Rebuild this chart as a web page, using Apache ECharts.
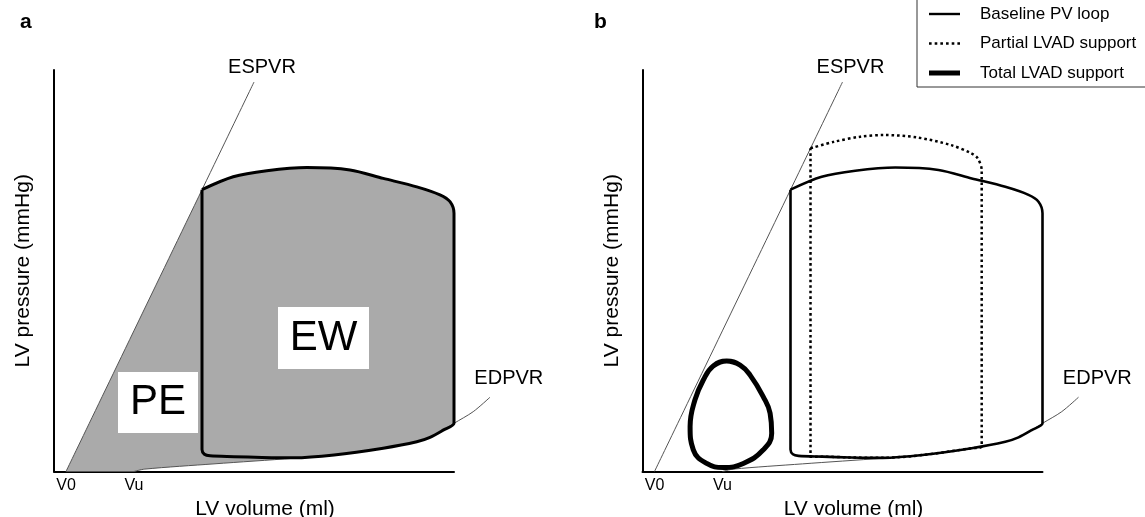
<!DOCTYPE html>
<html>
<head>
<meta charset="utf-8">
<title>LV pressure-volume loops</title>
<script src="https://cdn.jsdelivr.net/npm/echarts@6/dist/echarts.min.js"></script>
<style>
  html, body { margin: 0; padding: 0; background: #fff; }
  #chart { width: 1145px; height: 517px; }
</style>
</head>
<body>
<div id="chart"></div>
<script>
// Volume axis marks
const TICK_VALUES = [3, 20];
const TICK_LABELS = ['V0', 'Vu'];

// End-systolic pressure-volume relation (straight line from V0)
const ESPVR = [[3, 0], [50, 97]];

// End-diastolic pressure-volume relation (from Vu, rising exponentially)
const EDPVR = [
  [20, 0], [22.7, 0.6], [40, 1.9], [60, 3.3], [70, 4.1], [82.3, 5.8],
  [90.7, 7.4], [94, 8.5], [97.3, 10.3], [100, 12], [104.8, 14.9], [109, 18.5]
];

// Baseline PV loop, starting at the end-systolic corner and running clockwise
const LOOP_BASELINE = [
  [37, 70.2], [44.8, 73.4], [53.2, 74.9], [63.2, 75.7], [74, 75.1], [82.3, 73],
  [90.7, 70.9], [96.5, 68.9], [99, 67.2], [100, 64.3], [100, 62],
  [100, 14], [100, 12],
  [97.3, 10.3], [94, 8.5], [90.7, 7.4], [82.3, 5.8], [70, 4.1], [60, 3.4],
  [52, 3.5], [45, 3.7], [39, 3.9], [37.6, 4.3], [37, 5.5],
  [37, 68], [37, 70.2]
];

// Loop under partial LVAD support
const LOOP_PARTIAL = [
  [42, 80.5], [47.8, 82.1], [54.5, 83.4], [60.4, 83.8], [68.7, 83.2], [77.1, 81.3],
  [82.1, 79.3], [83.8, 78], [84.8, 75.1], [84.8, 73],
  [84.8, 6.2],
  [82.3, 5.8], [70, 4.1], [60, 3.4], [52, 3.5], [45, 3.7], [42, 3.7],
  [42, 78], [42, 80.5]
];

// Loop under total LVAD support (closed, first two points repeated)
const LOOP_TOTAL = [
  [17.7, 26.3], [21.05, 27.5], [24.4, 26.5], [26.9, 24.0], [30.2, 18.6], [31.9, 14.5],
  [32.3, 9.5], [30.2, 5.4], [25.2, 2.0], [20.2, 1.0], [16.05, 2.0], [12.7, 5.4],
  [11.9, 11.2], [13.1, 17.8], [15.2, 22.8], [17.7, 26.3], [21.05, 27.5], [24.4, 26.5]
];

const LEGEND_NAMES = ['Baseline PV loop', 'Partial LVAD support', 'Total LVAD support'];
const AREA_NAMES = ['PE', 'EW'];
const CURVE_NAMES = ['ESPVR', 'EDPVR'];

// Shaded region: PE triangle plus the stroke-work area of the loop
const FILL_OUTLINE = [ESPVR[0]]
  .concat(LOOP_BASELINE.slice(0, 13))
  .concat(EDPVR.filter(p => p[0] < 100).reverse());

const FONT = '"Liberation Sans", Arial, Helvetica, sans-serif';

// annotation placement in data units
const CURVE_NOTE_AT = [[52, 100.7], [113.7, 23.1]];
const AREA_BOX_AT = [
  { from: [16, 9.6], to: [36, 24.8] },
  { from: [56, 25.5], to: [78.75, 41] }
];

const chart = echarts.init(document.getElementById('chart'), null, { renderer: 'canvas' });

function axisPair(i) {
  return {
    x: {
      gridIndex: i, type: 'value', min: 0, max: 100,
      name: 'LV volume (ml)', nameLocation: 'middle', nameGap: 23,
      nameTextStyle: { fontSize: 21, fontFamily: FONT, color: '#000', padding: [0, 0, 0, 22] },
      axisLine: { show: true, onZero: false, lineStyle: { color: '#000', width: 2 } },
      axisTick: { show: false },
      splitLine: { show: false },
      axisLabel: {
        customValues: TICK_VALUES,
        formatter: v => { const k = TICK_VALUES.indexOf(v); return k >= 0 ? TICK_LABELS[k] : ''; },
        fontSize: 16, fontFamily: FONT, color: '#000', margin: 6
      }
    },
    y: {
      gridIndex: i, type: 'value', min: 0, max: 100,
      name: 'LV pressure (mmHg)', nameLocation: 'middle', nameGap: 20,
      nameTextStyle: { fontSize: 21, fontFamily: FONT, color: '#000' },
      axisLine: { show: true, onZero: false, lineStyle: { color: '#000', width: 2 } },
      axisTick: { show: false },
      splitLine: { show: false },
      axisLabel: { show: false }
    }
  };
}

// thin reference relation drawn as a smoothed polyline through the axis scales
function thinCurve(i, data) {
  return {
    type: 'custom', xAxisIndex: i, yAxisIndex: i, coordinateSystem: 'cartesian2d',
    clip: false, silent: true, z: 2,
    data: [data[0]],
    renderItem: (params, api) => ({
      type: 'polyline',
      shape: { points: data.map(p => api.coord(p)), smooth: 0.3 },
      style: { stroke: '#555', lineWidth: 1, fill: null }
    })
  };
}

function loop(i, name, data, width, dash, smooth) {
  return {
    type: 'line', name: name, xAxisIndex: i, yAxisIndex: i, data: data,
    symbol: 'none', smooth: smooth, clip: false, silent: true, z: 3,
    itemStyle: { color: '#000' },
    lineStyle: { color: '#000', width: width, type: dash, cap: 'butt', join: 'round' }
  };
}

function curveNotes(i) {
  return {
    type: 'custom', xAxisIndex: i, yAxisIndex: i, coordinateSystem: 'cartesian2d',
    clip: false, silent: true, z: 5,
    data: CURVE_NOTE_AT,
    renderItem: (params, api) => {
      const p = api.coord([api.value(0), api.value(1)]);
      return {
        type: 'text', x: p[0], y: p[1],
        style: {
          text: CURVE_NAMES[params.dataIndex], fill: '#000',
          font: '20px ' + FONT, align: 'center', verticalAlign: 'middle'
        }
      };
    }
  };
}

const option = {
  animation: false,
  backgroundColor: '#fff',
  title: [
    { text: 'a', left: 20, top: 12, padding: 0,
      textStyle: { fontSize: 21, fontWeight: 'bold', fontFamily: FONT, color: '#000' } },
    { text: 'b', left: 594, top: 12, padding: 0,
      textStyle: { fontSize: 21, fontWeight: 'bold', fontFamily: FONT, color: '#000' } }
  ],
  legend: {
    orient: 'vertical', left: 917, top: -10,
    padding: [14, 40, 4, 12],
    itemWidth: 31, itemHeight: 14, itemGap: 9.5,
    borderColor: '#333', borderWidth: 1, backgroundColor: '#fff',
    selectedMode: false,
    itemStyle: { borderWidth: 0 },
    textStyle: { fontSize: 17, fontFamily: FONT, color: '#000', lineHeight: 20, padding: [0, 0, 0, 15] },
    data: [
      { name: LEGEND_NAMES[0], icon: 'path://M0,0H31V2.4H0Z' },
      { name: LEGEND_NAMES[1], icon: 'path://M0,0H2.4V2.4H0Z M5.2,0H7.6V2.4H5.2Z M10.4,0H12.8V2.4H10.4Z M15.6,0H18V2.4H15.6Z M20.8,0H23.2V2.4H20.8Z M26,0H28.4V2.4H26Z' },
      { name: LEGEND_NAMES[2], icon: 'path://M0,0H31V5H0Z' }
    ]
  },
  grid: [
    { left: 54, top: 70, width: 400, height: 401.5, containLabel: false, outerBoundsMode: 'none' },
    { left: 642.5, top: 70, width: 400, height: 401.5, containLabel: false, outerBoundsMode: 'none' }
  ],
  xAxis: [axisPair(0).x, axisPair(1).x],
  yAxis: [axisPair(0).y, axisPair(1).y],
  series: [
    // panel a: shaded PE + EW area
    {
      type: 'custom', xAxisIndex: 0, yAxisIndex: 0, coordinateSystem: 'cartesian2d',
      clip: false, silent: true, z: 1,
      data: [[0, 0]],
      renderItem: (params, api) => ({
        type: 'polygon',
        shape: { points: FILL_OUTLINE.map(p => api.coord(p)) },
        style: { fill: '#aaaaaa', stroke: null }
      })
    },
    thinCurve(0, ESPVR),
    thinCurve(0, EDPVR),
    loop(0, 'PV loop', LOOP_BASELINE, 3, 'solid', 0.3),
    // PE / EW boxes
    {
      type: 'custom', xAxisIndex: 0, yAxisIndex: 0, coordinateSystem: 'cartesian2d',
      clip: false, silent: true, z: 6,
      data: AREA_BOX_AT.map(b => b.from),
      renderItem: (params, api) => {
        const b = AREA_BOX_AT[params.dataIndex];
        const p0 = api.coord([b.from[0], b.to[1]]);
        const p1 = api.coord([b.to[0], b.from[1]]);
        return {
          type: 'group',
          children: [
            { type: 'rect', shape: { x: p0[0], y: p0[1], width: p1[0] - p0[0], height: p1[1] - p0[1] },
              style: { fill: '#fff' } },
            { type: 'text', x: (p0[0] + p1[0]) / 2, y: (p0[1] + p1[1]) / 2,
              style: { text: AREA_NAMES[params.dataIndex], fill: '#000', font: '42px ' + FONT,
                       align: 'center', verticalAlign: 'middle' } }
          ]
        };
      }
    },
    curveNotes(0),

    // panel b
    thinCurve(1, ESPVR),
    thinCurve(1, EDPVR),
    loop(1, LEGEND_NAMES[0], LOOP_BASELINE, 2.6, 'solid', 0.3),
    loop(1, LEGEND_NAMES[1], LOOP_PARTIAL, 2.5, [2.6, 2.9], 0.3),
    loop(1, LEGEND_NAMES[2], LOOP_TOTAL, 5, 'solid', 0.45),
    curveNotes(1)
  ]
};

chart.setOption(option);
</script>
</body>
</html>
